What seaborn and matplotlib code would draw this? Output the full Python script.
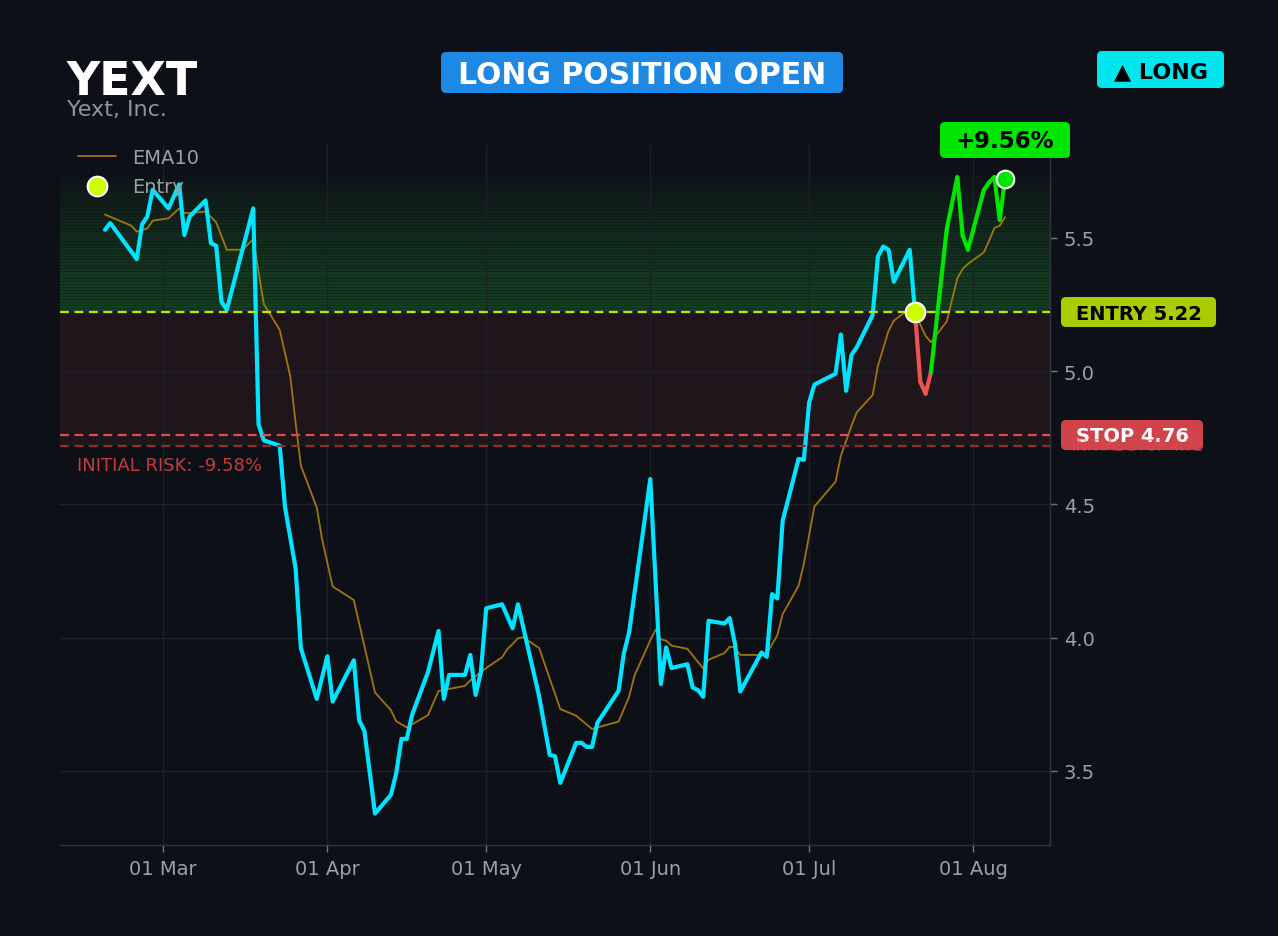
import matplotlib
matplotlib.use("Agg")
import numpy as np
import pandas as pd
import matplotlib.pyplot as plt
import matplotlib.dates as mdates
from matplotlib.patches import FancyBboxPatch
from matplotlib.transforms import IdentityTransform
from matplotlib.ticker import MultipleLocator
import seaborn as sns

# --- data --------------------------------------------------------------------
ticker = "YEXT"
company = "Yext, Inc."

price_dates = [
    "2026-02-18", "2026-02-19", "2026-02-24", "2026-02-25", "2026-02-26", "2026-02-27",
    "2026-03-02", "2026-03-04", "2026-03-05", "2026-03-06", "2026-03-09", "2026-03-10",
    "2026-03-11", "2026-03-12", "2026-03-13", "2026-03-18", "2026-03-19", "2026-03-20",
    "2026-03-23", "2026-03-24", "2026-03-26", "2026-03-27", "2026-03-30",
    "2026-04-01", "2026-04-02", "2026-04-06", "2026-04-07", "2026-04-08", "2026-04-10",
    "2026-04-13", "2026-04-14", "2026-04-15", "2026-04-16", "2026-04-17", "2026-04-20",
    "2026-04-22", "2026-04-23", "2026-04-24", "2026-04-27", "2026-04-28", "2026-04-29",
    "2026-04-30",
    "2026-05-01", "2026-05-04", "2026-05-06", "2026-05-07", "2026-05-11", "2026-05-13",
    "2026-05-14", "2026-05-15", "2026-05-18", "2026-05-19", "2026-05-20", "2026-05-21",
    "2026-05-22", "2026-05-26", "2026-05-27", "2026-05-28",
    "2026-06-01", "2026-06-02", "2026-06-03", "2026-06-04", "2026-06-05", "2026-06-08",
    "2026-06-09", "2026-06-10", "2026-06-11", "2026-06-12", "2026-06-15", "2026-06-16",
    "2026-06-17", "2026-06-18", "2026-06-22", "2026-06-23", "2026-06-24", "2026-06-25",
    "2026-06-26", "2026-06-29", "2026-06-30",
    "2026-07-01", "2026-07-02", "2026-07-06", "2026-07-07", "2026-07-08", "2026-07-09",
    "2026-07-10", "2026-07-13", "2026-07-14", "2026-07-15", "2026-07-16", "2026-07-17",
    "2026-07-20", "2026-07-21", "2026-07-22", "2026-07-23", "2026-07-24", "2026-07-27",
    "2026-07-29", "2026-07-30", "2026-07-31",
    "2026-08-03", "2026-08-04", "2026-08-05", "2026-08-06", "2026-08-07",
]
price_values = [
    5.53, 5.555, 5.42, 5.55, 5.58, 5.68,
    5.61, 5.70, 5.51, 5.58, 5.64, 5.48,
    5.47, 5.26, 5.23, 5.61, 4.80, 4.74,
    4.72, 4.49, 4.26, 3.96, 3.77,
    3.93, 3.76, 3.915, 3.69, 3.65, 3.34,
    3.41, 3.49, 3.62, 3.62, 3.71, 3.87,
    4.025, 3.77, 3.86, 3.86, 3.935, 3.785,
    3.87,
    4.11, 4.125, 4.035, 4.125, 3.78, 3.56,
    3.555, 3.455, 3.605, 3.605, 3.59, 3.59,
    3.68, 3.80, 3.94, 4.02,
    4.595, 4.21, 3.826, 3.963, 3.886, 3.90,
    3.813, 3.803, 3.778, 4.063, 4.053, 4.073,
    3.976, 3.798, 3.944, 3.928, 4.163, 4.147,
    4.438, 4.67, 4.667,
    4.882, 4.949, 4.99, 5.137, 4.926, 5.06,
    5.089, 5.21, 5.43, 5.467, 5.455, 5.335,
    5.455, 5.22, 4.96, 4.915, 4.995, 5.533,
    5.727, 5.508, 5.455,
    5.679, 5.708, 5.728, 5.567, 5.72,
]

ema_dates = [
    "2026-02-18", "2026-02-23", "2026-02-24", "2026-02-26", "2026-02-27",
    "2026-03-02", "2026-03-04", "2026-03-05", "2026-03-06", "2026-03-09", "2026-03-11",
    "2026-03-13", "2026-03-16", "2026-03-18", "2026-03-20", "2026-03-23", "2026-03-25",
    "2026-03-26", "2026-03-27", "2026-03-30", "2026-03-31",
    "2026-04-02", "2026-04-06", "2026-04-10", "2026-04-13", "2026-04-14", "2026-04-16",
    "2026-04-20", "2026-04-22", "2026-04-27", "2026-04-28",
    "2026-05-01", "2026-05-04", "2026-05-05", "2026-05-06", "2026-05-07", "2026-05-08",
    "2026-05-11", "2026-05-15", "2026-05-18", "2026-05-21", "2026-05-22", "2026-05-26",
    "2026-05-28", "2026-05-29",
    "2026-06-01", "2026-06-02", "2026-06-03", "2026-06-04", "2026-06-05", "2026-06-08",
    "2026-06-11", "2026-06-12", "2026-06-15", "2026-06-16", "2026-06-17", "2026-06-18",
    "2026-06-22", "2026-06-23", "2026-06-25", "2026-06-26", "2026-06-29", "2026-06-30",
    "2026-07-02", "2026-07-06", "2026-07-07", "2026-07-08", "2026-07-09", "2026-07-10",
    "2026-07-13", "2026-07-14", "2026-07-16", "2026-07-17", "2026-07-20", "2026-07-21",
    "2026-07-22", "2026-07-23", "2026-07-24", "2026-07-27", "2026-07-28", "2026-07-29",
    "2026-07-30", "2026-07-31",
    "2026-08-03", "2026-08-04", "2026-08-05", "2026-08-06", "2026-08-07",
]
ema_values = [
    5.587, 5.545, 5.523, 5.535, 5.564,
    5.573, 5.610, 5.593, 5.593, 5.598, 5.558,
    5.455, 5.455, 5.495, 5.251, 5.155, 4.98,
    4.807, 4.645, 4.488, 4.370,
    4.192, 4.141, 3.794, 3.728, 3.686, 3.663,
    3.709, 3.800, 3.819, 3.840,
    3.886, 3.926, 3.957, 3.976, 3.998, 4.001,
    3.961, 3.732, 3.707, 3.657, 3.663, 3.685,
    3.778, 3.857,
    3.99, 4.030, 3.994, 3.988, 3.970, 3.958,
    3.884, 3.917, 3.942, 3.966, 3.963, 3.935,
    3.935, 3.940, 4.009, 4.088, 4.194, 4.276,
    4.492, 4.585, 4.682, 4.738, 4.795, 4.845,
    4.910, 5.020, 5.151, 5.189, 5.235, 5.233,
    5.174, 5.132, 5.108, 5.186, 5.268, 5.348,
    5.383, 5.402,
    5.445, 5.489, 5.537, 5.545, 5.577,
]

entry_date = "2026-07-21"
entry_price = 5.22
stop_price = 4.76
initial_stop = 4.72
gain_label = "+9.56%"
risk_label = "INITIAL RISK: -9.58%"

# --- style -------------------------------------------------------------------
BG = "#0d1117"
W, H = 1278, 937
sns.set_theme(style="dark", rc={
    "figure.facecolor": BG,
    "axes.facecolor": BG,
    "savefig.facecolor": BG,
    "axes.edgecolor": "#30363d",
    "grid.color": "#1c2128",
    "text.color": "#9aa0a6",
    "xtick.color": "#6e7681",
    "ytick.color": "#6e7681",
})
plt.rcParams["font.family"] = ["DejaVu Sans"]

CYAN = "#00e5ff"
GREEN = "#00e600"
RED = "#ef5350"
LIME = "#ccff00"

price_df = pd.DataFrame({"date": pd.to_datetime(price_dates), "close": price_values})
ema_df = pd.DataFrame({"date": pd.to_datetime(ema_dates), "ema": ema_values})
entry_ts = pd.Timestamp(entry_date)
pre_df = price_df[price_df["date"] <= entry_ts]
post_df = price_df[price_df["date"] >= entry_ts].reset_index(drop=True)
exit_row = post_df.iloc[-1]

fig = plt.figure(figsize=(W / 100, H / 100), dpi=100)
ax = fig.add_axes([60 / W, 1 - 846 / H, 990 / W, 700 / H])

# zones: striped green gradient above entry, faint red between initial stop and entry
n_bands = 44
band_edges = np.linspace(entry_price, post_df["close"].max(), n_bands + 1)
for i in range(n_bands):
    fade = (1 - i / n_bands) ** 0.8
    lo, hi = band_edges[i], band_edges[i + 1]
    ax.axhspan(lo, hi, color="#2ecc40", alpha=0.15 * fade, lw=0, zorder=0)
    ax.axhspan(lo + 0.3 * (hi - lo), hi, color="#2ecc40", alpha=0.13 * fade,
               lw=0, zorder=0)
ax.axhspan(initial_stop, entry_price, color=RED, alpha=0.08, lw=0, zorder=0)

# lines
sns.lineplot(data=ema_df, x="date", y="ema", ax=ax, color="#b8860b", lw=1.3,
             alpha=0.85, label="EMA10", zorder=2)
sns.lineplot(data=pre_df, x="date", y="close", ax=ax, color=CYAN, lw=3,
             zorder=3, solid_capstyle="round", solid_joinstyle="round")
for i in range(len(post_df) - 1):
    seg = post_df.iloc[i:i + 2]
    seg_color = GREEN if seg["close"].iloc[1] >= entry_price else RED
    sns.lineplot(data=seg, x="date", y="close", ax=ax, color=seg_color, lw=3,
                 zorder=3, solid_capstyle="round")

ax.axhline(entry_price, color="#c6e600", ls=(0, (4, 2.5)), lw=1.6, zorder=4)
ax.axhline(stop_price, color="#e5484d", ls=(0, (4, 2.5)), lw=1.6, zorder=4)
ax.axhline(initial_stop, color="#8b2f36", ls=(0, (4, 2.5)), lw=1.6, zorder=4)

# entry / exit markers
sns.scatterplot(x=[entry_ts], y=[entry_price], ax=ax, s=200, color=LIME,
                edgecolor="white", linewidth=1.5, zorder=6, label="Entry")
sns.scatterplot(x=[exit_row["date"]], y=[exit_row["close"]], ax=ax, s=160,
                color=GREEN, edgecolor="white", linewidth=1.5, zorder=6)

# axes
ax.set_ylim(3.222, 5.848)
ax.set_xlabel("")
ax.set_ylabel("")
ax.xaxis.set_major_locator(mdates.MonthLocator())
ax.xaxis.set_major_formatter(mdates.DateFormatter("%d %b"))
ax.yaxis.set_major_locator(MultipleLocator(0.5))
ax.yaxis.tick_right()
ax.tick_params(axis="both", length=5, width=1, labelsize=14,
               labelcolor="#9aa0a6", pad=5)
ax.tick_params(axis="x", bottom=True)
ax.tick_params(axis="y", left=False, right=True, labelleft=False, labelright=True)
ax.grid(True, color="#1c2128", lw=1)
for side in ["top", "left"]:
    ax.spines[side].set_visible(False)
for side in ["right", "bottom"]:
    ax.spines[side].set_color("#30363d")
    ax.spines[side].set_linewidth(1)

ax.legend(loc="upper left", bbox_to_anchor=(0, 1.021), frameon=False,
          fontsize=14, labelcolor="#9aa0a6")


# --- header, badges and labels (pixel coordinates, origin top-left) ----------
def put_text(x, y, s, **kw):
    fig.text(x, H - y, s, transform=IdentityTransform(), **kw)


def badge(s, x0, y0, x1, y1, fc, tc, fs, text_x=None, cap_y=None):
    box = FancyBboxPatch((x0, H - y1), x1 - x0, y1 - y0,
                         boxstyle="round,pad=0,rounding_size=5",
                         transform=IdentityTransform(), fc=fc, ec="none", zorder=10)
    fig.add_artist(box)
    cx = (x0 + x1) / 2 if text_x is None else text_x
    cy = (y0 + y1) / 2 if cap_y is None else cap_y
    cap = 0.729 * fs * 100 / 72
    put_text(cx, cy + cap / 2, s, ha="center", va="baseline", fontsize=fs,
             fontweight="bold", color=tc, zorder=11)


put_text(67, 95, ticker, fontsize=33, fontweight="bold", color="white", va="baseline")
put_text(67, 116, company, fontsize=16, color="#8b949e", va="baseline")

badge("LONG POSITION OPEN", 441, 53, 843, 94, "#1e88e5", "white", 21.5, cap_y=73.5)
badge("▲ LONG", 1097, 52, 1224, 89, "#00e5ee", "black", 16, cap_y=70.5)
badge(gain_label, 940, 123, 1070, 159, GREEN, "black", 16.5, cap_y=140)
badge(f"ENTRY {entry_price:.2f}", 1061, 298, 1216, 328, "#a8cc00", "black", 14, cap_y=313)
badge(f"STOP {stop_price:.2f}", 1061, 421, 1203, 451, "#d1434b", "white", 14, cap_y=434.5)
put_text(1072, 446 + 5.3, f"INITIAL STOP {initial_stop:.2f}", fontsize=10.5,
         color="#e5484d", alpha=0.55, va="baseline", zorder=12)
put_text(77, 464 + 6.6, risk_label, fontsize=13, color="#c23b40", va="baseline")

fig.savefig("out.png", dpi=100, facecolor=BG)
